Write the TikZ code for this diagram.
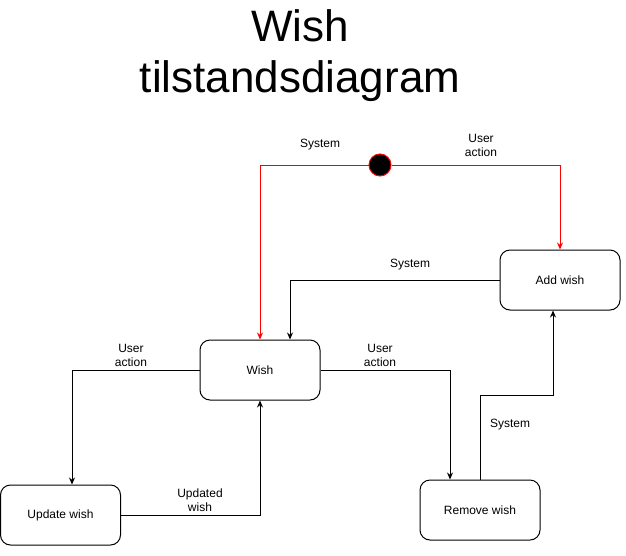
\documentclass[tikz,border=0pt]{standalone}
\usepackage{fontspec}
\setmainfont{Liberation Sans}
\usetikzlibrary{arrows.meta}
\begin{document}
\begin{tikzpicture}[x=1pt,y=-1pt,
  state/.style={draw=black,line width=1pt,rounded corners=10pt,minimum width=120pt,minimum height=60pt,font=\fontsize{12}{14}\selectfont,inner sep=0pt},
  edge/.style={line width=1pt,-{Stealth[length=7pt,width=6pt]}},
  redge/.style={edge,draw=red,-{Stealth[length=7pt,width=6pt,color=red]}},
  lbl/.style={font=\fontsize{12}{14}\selectfont,align=center,inner sep=0pt}]
\useasboundingbox (0,0) rectangle (626,555);
\node[font=\fontsize{44}{51}\selectfont,align=center,inner sep=0pt] (title) at (300,56) {Wish\\tilstandsdiagram};
\node[circle,fill=black,draw=red,line width=1pt,minimum size=22pt,inner sep=0pt] (init) at (380,165) {};
\node[state] (wish) at (260,370) {Wish};
\node[state] (add) at (560,280) {Add wish};
\node[state] (upd) at (60.5,515) {Update wish};
\node[state] (rem) at (480,510) {Remove wish};
\coordinate (c1) at (260,165);
\coordinate (c2) at (560,165);
\draw[redge] (init.west) -- (c1) -- (wish.north);
\draw[redge] (init.east) -- (c2) -- (add.north);
\draw[edge] (add.west) -| ([xshift=30pt]wish.north);
\draw[edge] (wish.west) -| ([xshift=11.5pt]upd.north);
\draw[edge] (upd.east) -| (wish.south);
\draw[edge] (wish.east) -| ([xshift=-30pt]rem.north);
\coordinate (k1) at (480,395);
\coordinate (k2) at (553,395);
\draw[edge] (rem.north) -- (k1) -- (k2) -- ([xshift=-7pt]add.south);
\node[lbl] (l1) at (320,145) {System};
\node[lbl] (l2) at (481,145) {User\\action};
\node[lbl] (l3) at (410,265) {System};
\node[lbl] (l4) at (131,355) {User\\action};
\node[lbl] (l5) at (200,500) {Updated\\wish};
\node[lbl] (l6) at (380,355) {User\\action};
\node[lbl] (l7) at (510,425) {System};
\end{tikzpicture}
\end{document}
